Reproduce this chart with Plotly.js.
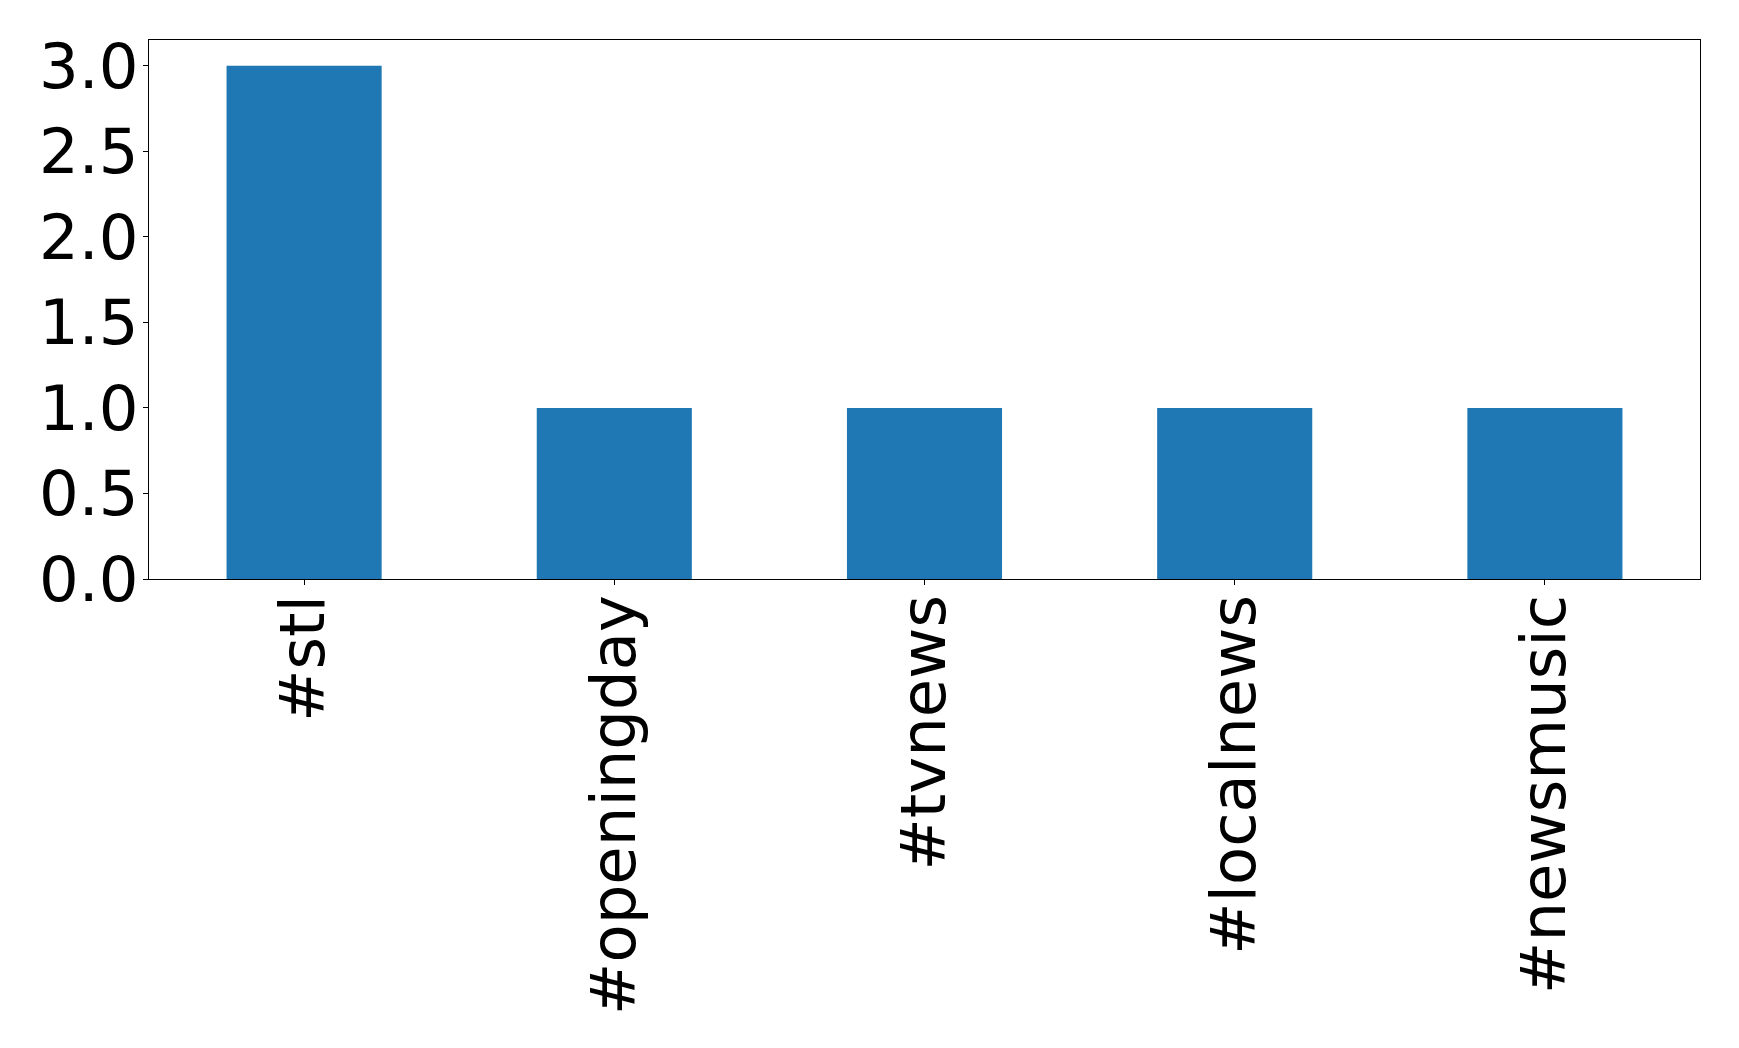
<!DOCTYPE html>
<html>
<head>
<meta charset="utf-8">
<script src="https://cdn.plot.ly/plotly-3.0.1.min.js"></script>
<style>html,body{margin:0;padding:0;background:#fff;}#chart{width:1739px;height:1048px;}</style>
</head>
<body>
<div id="chart"></div>
<script>
const categories = ["#stl", "#openingday", "#tvnews", "#localnews", "#newsmusic"];
const counts = [3, 1, 1, 1, 1];
const yTickVals = [0, 0.5, 1, 1.5, 2, 2.5, 3];
const yTickText = ["0.0", "0.5", "1.0", "1.5", "2.0", "2.5", "3.0"];

const font = {family: "DejaVu Sans", size: 62.5, color: "#000"};

Plotly.newPlot("chart", [{
  type: "bar",
  x: categories,
  y: counts,
  width: 0.5,
  marker: {color: "#1f77b4", line: {width: 0}}
}], {
  width: 1739, height: 1048,
  margin: {l: 149, r: 39, t: 40, b: 469},
  paper_bgcolor: "#fff", plot_bgcolor: "#fff",
  showlegend: false,
  font: font,
  xaxis: {
    type: "category",
    range: [-0.5, 4.5],
    tickangle: -90,
    ticks: "outside", ticklen: 5, tickwidth: 1, tickcolor: "#000",
    ticklabelstandoff: -15,
    showgrid: false, zeroline: false,
    showline: true, linecolor: "#000", linewidth: 1, mirror: true,
    tickfont: font
  },
  yaxis: {
    range: [0, 3.15],
    tickvals: yTickVals, ticktext: yTickText,
    ticks: "outside", ticklen: 5, tickwidth: 1, tickcolor: "#000",
    ticklabelstandoff: -8,
    showgrid: false, zeroline: false,
    showline: true, linecolor: "#000", linewidth: 1, mirror: true,
    tickfont: font
  }
}, {displayModeBar: false, staticPlot: true});
</script>
</body>
</html>
